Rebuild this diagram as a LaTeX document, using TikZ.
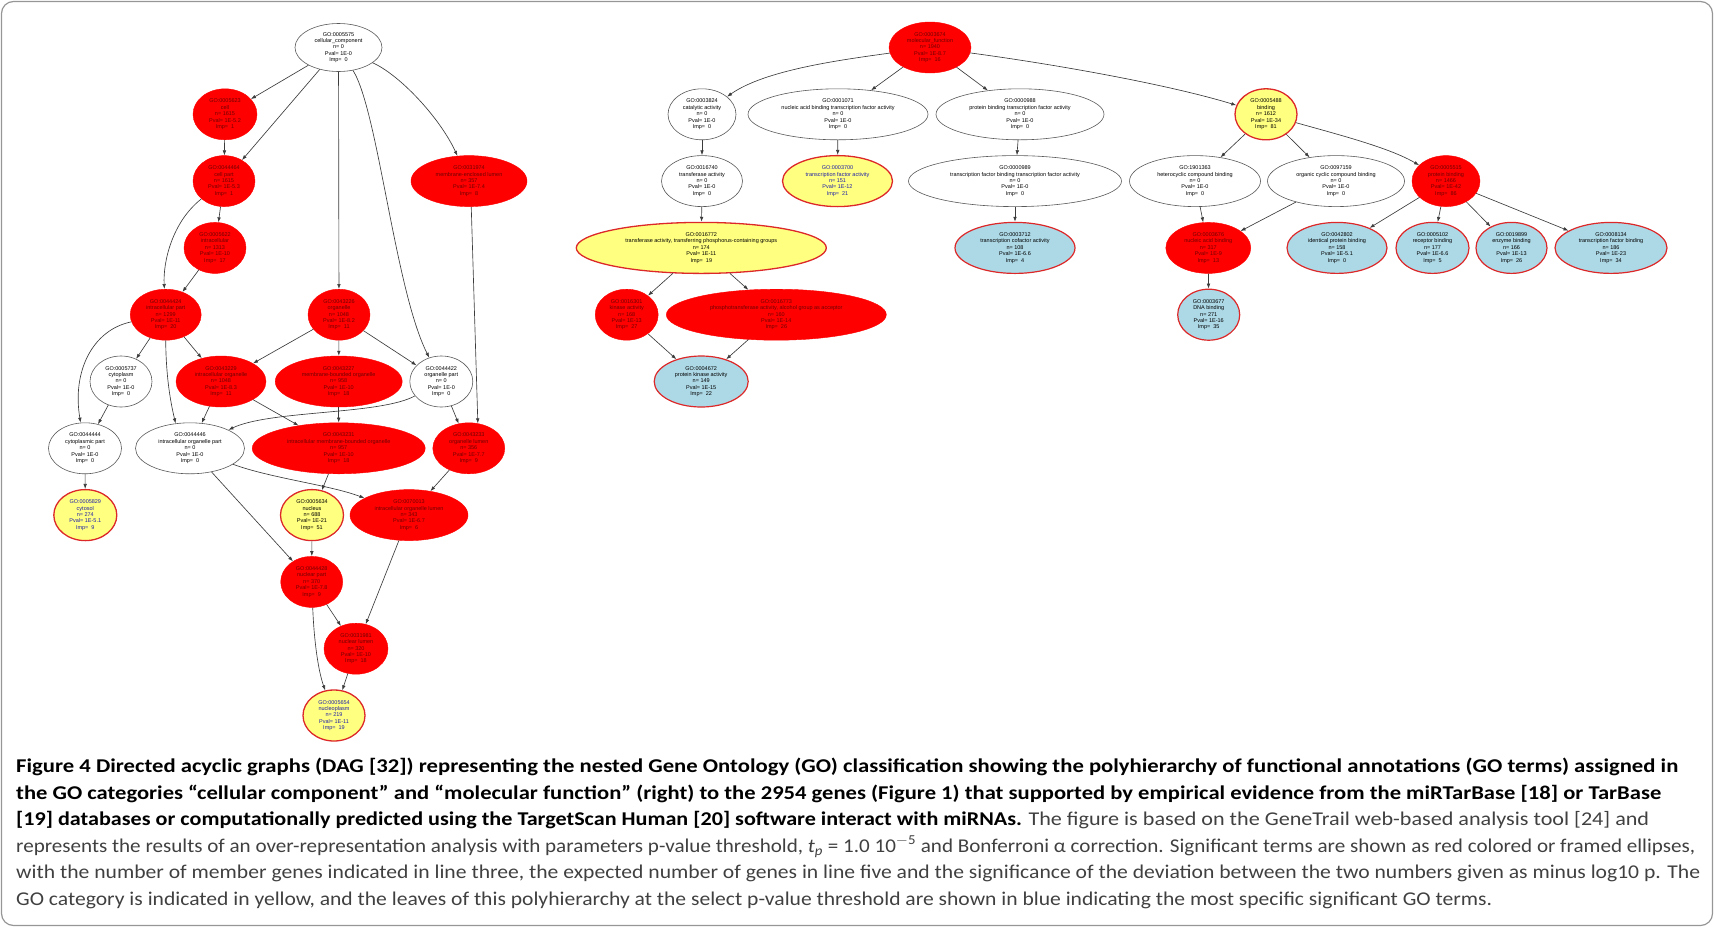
\documentclass[tikz,border=0pt]{standalone}
\usepackage{fontspec}
\usepackage{graphicx}
\usetikzlibrary{shapes.geometric,arrows.meta}
\newfontfamily\gvfont{Liberation Sans}
\newfontfamily\capfont{Carlito}
\definecolor{gvred}{RGB}{255,0,0}
\definecolor{gvyellow}{RGB}{255,255,128}
\definecolor{gvblue}{RGB}{173,216,230}
\definecolor{gvframe}{RGB}{220,40,40}
\definecolor{redtext}{RGB}{110,0,0}
\definecolor{bluetext}{RGB}{30,30,170}
\definecolor{edgegray}{RGB}{60,60,60}
\definecolor{captext}{RGB}{64,64,64}
\definecolor{framegray}{RGB}{150,150,150}
\newsavebox\capbox
\newcommand\capline[2]{%
  \sbox\capbox{#2}%
  \pgfmathsetmacro\capsc{#1/\the\wd\capbox}%
  \scalebox{\capsc}[1]{\usebox\capbox}}
\tikzset{
 go/.style={ellipse, inner sep=0pt, align=center, minimum height=51, font=\gvfont\fontsize{5.5}{6.4}\selectfont},
 wn/.style={go, draw=black!65, fill=white, line width=0.6, minimum width=#1},
 rn/.style={go, draw=gvred, fill=gvred, text=redtext, minimum width=#1},
 yn/.style={go, draw=gvframe, fill=gvyellow, line width=1.3, minimum width=#1},
 ybn/.style={yn=#1, text=bluetext},
 bn/.style={go, draw=gvframe, fill=gvblue, line width=1.2, minimum width=#1},
 gvedge/.style={draw=edgegray, line width=0.65, -{Latex[length=5,width=3.6]}},
 capl/.style={anchor=base west, inner sep=0pt, font=\capfont\fontsize{19.5}{20}\selectfont, text=captext},
}
\begin{document}
\begin{tikzpicture}[x=1pt,y=-1pt]
\useasboundingbox (0,0) rectangle (1714,927);
\draw[framegray, line width=1.2, rounded corners=12] (1.5,1.5) rectangle (1712.5,925.5);

% ---------------- left graph: cellular component
\node[wn=87, minimum height=48] (n5575) at (338.5,47.5) {GO:0005575\\cellular\_component\\n= 0\\Pval= 1E-0\\Imp=~~0};
\node[rn=64] (n5623) at (225,114.3) {GO:0005623\\cell\\n= 1615\\Pval= 1E-5.2\\Imp=~~1};
\node[rn=62] (n44464) at (224,181.1) {GO:0044464\\cell part\\n= 1615\\Pval= 1E-5.3\\Imp=~~1};
\node[rn=116] (n31974) at (469,181.1) {GO:0031974\\membrane-enclosed lumen\\n= 357\\Pval= 1E-7.4\\Imp=~~8};
\node[rn=62] (n5622) at (215,247.9) {GO:0005622\\intracellular\\n= 1313\\Pval= 1E-10\\Imp=~~17};
\node[rn=71] (n44424) at (165.7,314.7) {GO:0044424\\intracellular part\\n= 1299\\Pval= 1E-11\\Imp=~~20};
\node[rn=62] (n43226) at (339,314.7) {GO:0043226\\organelle\\n= 1048\\Pval= 1E-8.2\\Imp=~~11};
\node[wn=62] (n5737) at (121,381.5) {GO:0005737\\cytoplasm\\n= 0\\Pval= 1E-0\\Imp=~~0};
\node[rn=90] (n43229) at (221,381.5) {GO:0043229\\intracellular organelle\\n= 1048\\Pval= 1E-8.3\\Imp=~~11};
\node[rn=127] (n43227) at (338.7,381.5) {GO:0043227\\membrane-bounded organelle\\n= 958\\Pval= 1E-10\\Imp=~~18};
\node[wn=63] (n44422) at (441.3,381.5) {GO:0044422\\organelle part\\n= 0\\Pval= 1E-0\\Imp=~~0};
\node[wn=73] (n44444) at (85,448.3) {GO:0044444\\cytoplasmic part\\n= 0\\Pval= 1E-0\\Imp=~~0};
\node[wn=109] (n44446) at (190,448.3) {GO:0044446\\intracellular organelle part\\n= 0\\Pval= 1E-0\\Imp=~~0};
\node[rn=173] (n43231) at (338.7,448.3) {GO:0043231\\intracellular membrane-bounded organelle\\n= 957\\Pval= 1E-10\\Imp=~~18};
\node[rn=72] (n43233) at (468.8,448.3) {GO:0043233\\organelle lumen\\n= 356\\Pval= 1E-7.7\\Imp=~~9};
\node[ybn=63] (n5829) at (85.3,515.1) {GO:0005829\\cytosol\\n= 274\\Pval= 1E-5.1\\Imp=~~9};
\node[yn=63] (n5634) at (312,515.1) {GO:0005634\\nucleus\\n= 688\\Pval= 1E-21\\Imp=~~51};
\node[rn=118] (n70013) at (409,515.1) {GO:0070013\\intracellular organelle lumen\\n= 343\\Pval= 1E-6.7\\Imp=~~6};
\node[rn=62] (n44428) at (311.7,581.9) {GO:0044428\\nuclear part\\n= 370\\Pval= 1E-7.8\\Imp=~~9};
\node[rn=64] (n31981) at (356,648.7) {GO:0031981\\nuclear lumen\\n= 320\\Pval= 1E-10\\Imp=~~18};
\node[ybn=62] (n5654) at (334,715.5) {GO:0005654\\nucleoplasm\\n= 219\\Pval= 1E-11\\Imp=~~19};

\draw[gvedge] (n5575) -- (n5623);
\draw[gvedge] (n5575) -- (n44464);
\draw[gvedge] (n5575) -- (n43226);
\draw[gvedge] (n5575) .. controls (378,110) and (395,290) .. (n44422);
\draw[gvedge] (n5575) .. controls (400,75) and (440,118) .. (n31974);
\draw[gvedge] (n5623) -- (n44464);
\draw[gvedge] (n44464) -- (n5622);
\draw[gvedge] (n44464) .. controls (172,222) and (163,262) .. (n44424);
\draw[gvedge] (n5622) -- (n44424);
\draw[gvedge] (n44424) -- (n5737);
\draw[gvedge] (n44424) -- (n43229);
\draw[gvedge] (n43226) -- (n43229);
\draw[gvedge] (n43226) -- (n43227);
\draw[gvedge] (n43226) -- (n44422);
\draw[gvedge] (n44424) .. controls (92,330) and (72,372) .. (n44444);
\draw[gvedge] (n5737) -- (n44444);
\draw[gvedge] (n44424.south) .. controls (166,375) and (170,400) .. (n44446.120);
\draw[gvedge] (n43229) -- (n44446);
\draw[gvedge] (n44422) .. controls (380,415) and (270,410) .. (n44446);
\draw[gvedge] (n43229) -- (n43231);
\draw[gvedge] (n43227) -- (n43231);
\draw[gvedge] (n44422) -- (n43233);
\draw[gvedge] (n31974.-85) -- (n43233.70);
\draw[gvedge] (n44444) -- (n5829);
\draw[gvedge] (n44446) -- (n44428);
\draw[gvedge] (n44446) .. controls (270,478) and (330,485) .. (n70013);
\draw[gvedge] (n43231) -- (n5634);
\draw[gvedge] (n43233) -- (n70013);
\draw[gvedge] (n5634) -- (n44428);
\draw[gvedge] (n44428) -- (n31981);
\draw[gvedge] (n70013) -- (n31981);
\draw[gvedge] (n44428) .. controls (314,640) and (318,670) .. (n5654);
\draw[gvedge] (n31981) -- (n5654);

% ---------------- right graph: molecular function
\node[rn=82] (n3674) at (930,47.5) {GO:0003674\\molecular\_function\\n= 1940\\Pval= 1E-8.7\\Imp=~~16};
\node[wn=68] (n3824) at (702,114.3) {GO:0003824\\catalytic activity\\n= 0\\Pval= 1E-0\\Imp=~~0};
\node[wn=180] (n1071) at (838,114.3) {GO:0001071\\nucleic acid binding transcription factor activity\\n= 0\\Pval= 1E-0\\Imp=~~0};
\node[wn=168] (n3988) at (1020,114.3) {GO:0000988\\protein binding transcription factor activity\\n= 0\\Pval= 1E-0\\Imp=~~0};
\node[yn=62] (n5488) at (1266,114.3) {GO:0005488\\binding\\n= 1612\\Pval= 1E-34\\Imp=~~81};
\node[wn=81] (n16740) at (702,181.1) {GO:0016740\\transferase activity\\n= 0\\Pval= 1E-0\\Imp=~~0};
\node[ybn=110] (n3700) at (837.5,181.1) {GO:0003700\\transcription factor activity\\n= 151\\Pval= 1E-12\\Imp=~~21};
\node[wn=213] (n3989) at (1015,181.1) {GO:0000989\\transcription factor binding transcription factor activity\\n= 0\\Pval= 1E-0\\Imp=~~0};
\node[wn=131] (n1901363) at (1195,181.1) {GO:1901363\\heterocyclic compound binding\\n= 0\\Pval= 1E-0\\Imp=~~0};
\node[wn=137] (n97159) at (1336,181.1) {GO:0097159\\organic cyclic compound binding\\n= 0\\Pval= 1E-0\\Imp=~~0};
\node[rn=68] (n5515) at (1446,181.1) {GO:0005515\\protein binding\\n= 1466\\Pval= 1E-42\\Imp=~~86};
\node[yn=250] (n16772) at (701.3,247.9) {GO:0016772\\transferase activity, transferring phosphorus-containing groups\\n= 174\\Pval= 1E-11\\Imp=~~19};
\node[bn=120] (n3712) at (1015,247.9) {GO:0003712\\transcription cofactor activity\\n= 108\\Pval= 1E-6.6\\Imp=~~4};
\node[rn=85] (n3676) at (1208.3,247.9) {GO:0003676\\nucleic acid binding\\n= 317\\Pval= 1E-9\\Imp=~~13};
\node[bn=100] (n42802) at (1337,247.9) {GO:0042802\\identical protein binding\\n= 158\\Pval= 1E-5.1\\Imp=~~0};
\node[bn=73] (n5102) at (1432.5,247.9) {GO:0005102\\receptor binding\\n= 177\\Pval= 1E-6.6\\Imp=~~5};
\node[bn=71] (n19899) at (1511.5,247.9) {GO:0019899\\enzyme binding\\n= 166\\Pval= 1E-13\\Imp=~~26};
\node[bn=112] (n8134) at (1611,247.9) {GO:0008134\\transcription factor binding\\n= 186\\Pval= 1E-23\\Imp=~~34};
\node[rn=63] (n16301) at (626.7,314.7) {GO:0016301\\kinase activity\\n= 168\\Pval= 1E-13\\Imp=~~27};
\node[rn=220] (n16773) at (776.3,314.7) {GO:0016773\\phosphotransferase activity, alcohol group as acceptor\\n= 160\\Pval= 1E-14\\Imp=~~26};
\node[bn=62] (n3677) at (1208.7,314.7) {GO:0003677\\DNA binding\\n= 271\\Pval= 1E-16\\Imp=~~35};
\node[bn=94] (n4672) at (701.2,381.5) {GO:0004672\\protein kinase activity\\n= 149\\Pval= 1E-15\\Imp=~~22};

\draw[gvedge] (n3674) .. controls (840,60) and (765,70) .. (n3824);
\draw[gvedge] (n3674) -- (n1071);
\draw[gvedge] (n3674) -- (n3988);
\draw[gvedge] (n3674) .. controls (1060,65) and (1170,85) .. (n5488);
\draw[gvedge] (n3824) -- (n16740);
\draw[gvedge] (n1071) -- (n3700);
\draw[gvedge] (n3988) -- (n3989);
\draw[gvedge] (n5488) -- (n1901363.43);
\draw[gvedge] (n5488) -- (n97159.138);
\draw[gvedge] (n5488) .. controls (1340,135) and (1390,148) .. (n5515);
\draw[gvedge] (n16740) -- (n16772);
\draw[gvedge] (n3989) -- (n3712);
\draw[gvedge] (n1901363) -- (n3676);
\draw[gvedge] (n97159) -- (n3676);
\draw[gvedge] (n5515) -- (n42802);
\draw[gvedge] (n5515) -- (n5102);
\draw[gvedge] (n5515) -- (n19899);
\draw[gvedge] (n5515) -- (n8134);
\draw[gvedge] (n16772) -- (n16301);
\draw[gvedge] (n16772) -- (n16773);
\draw[gvedge] (n16301) -- (n4672);
\draw[gvedge] (n16773) -- (n4672);
\draw[gvedge] (n3676) -- (n3677);

% ---------------- caption
\node[capl] (c1) at (16,772.4) {\capline{1662}{\color{black}\bfseries Figure 4 Directed acyclic graphs (DAG [32]) representing the nested Gene Ontology (GO) classification showing the polyhierarchy of functional annotations (GO terms) assigned in}};
\node[capl] (c2) at (16,799.0) {\capline{1645}{\color{black}\bfseries the GO categories “cellular component” and “molecular function” (right) to the 2954 genes (Figure 1) that supported by empirical evidence from the miRTarBase [18] or TarBase}};
\node[capl] (c3) at (16,825.6) {\capline{1633}{{\color{black}\bfseries [19] databases or computationally predicted using the TargetScan Human [20] software interact with miRNAs.} The figure is based on the GeneTrail web-based analysis tool [24] and}};
\node[capl] (c4) at (16,852.2) {\capline{1679}{represents the results of an over-representation analysis with parameters p-value threshold, \textit{t}\textsubscript{\textit{p}} = 1.0 10\textsuperscript{\(-\)5} and Bonferroni α correction. Significant terms are shown as red colored or framed ellipses,}};
\node[capl] (c5) at (16,878.8) {\capline{1684}{with the number of member genes indicated in line three, the expected number of genes in line five and the significance of the deviation between the two numbers given as minus log10 p. The}};
\node[capl] (c6) at (16,905.4) {\capline{1476}{GO category is indicated in yellow, and the leaves of this polyhierarchy at the select p-value threshold are shown in blue indicating the most specific significant GO terms.}};
\end{tikzpicture}
\end{document}
